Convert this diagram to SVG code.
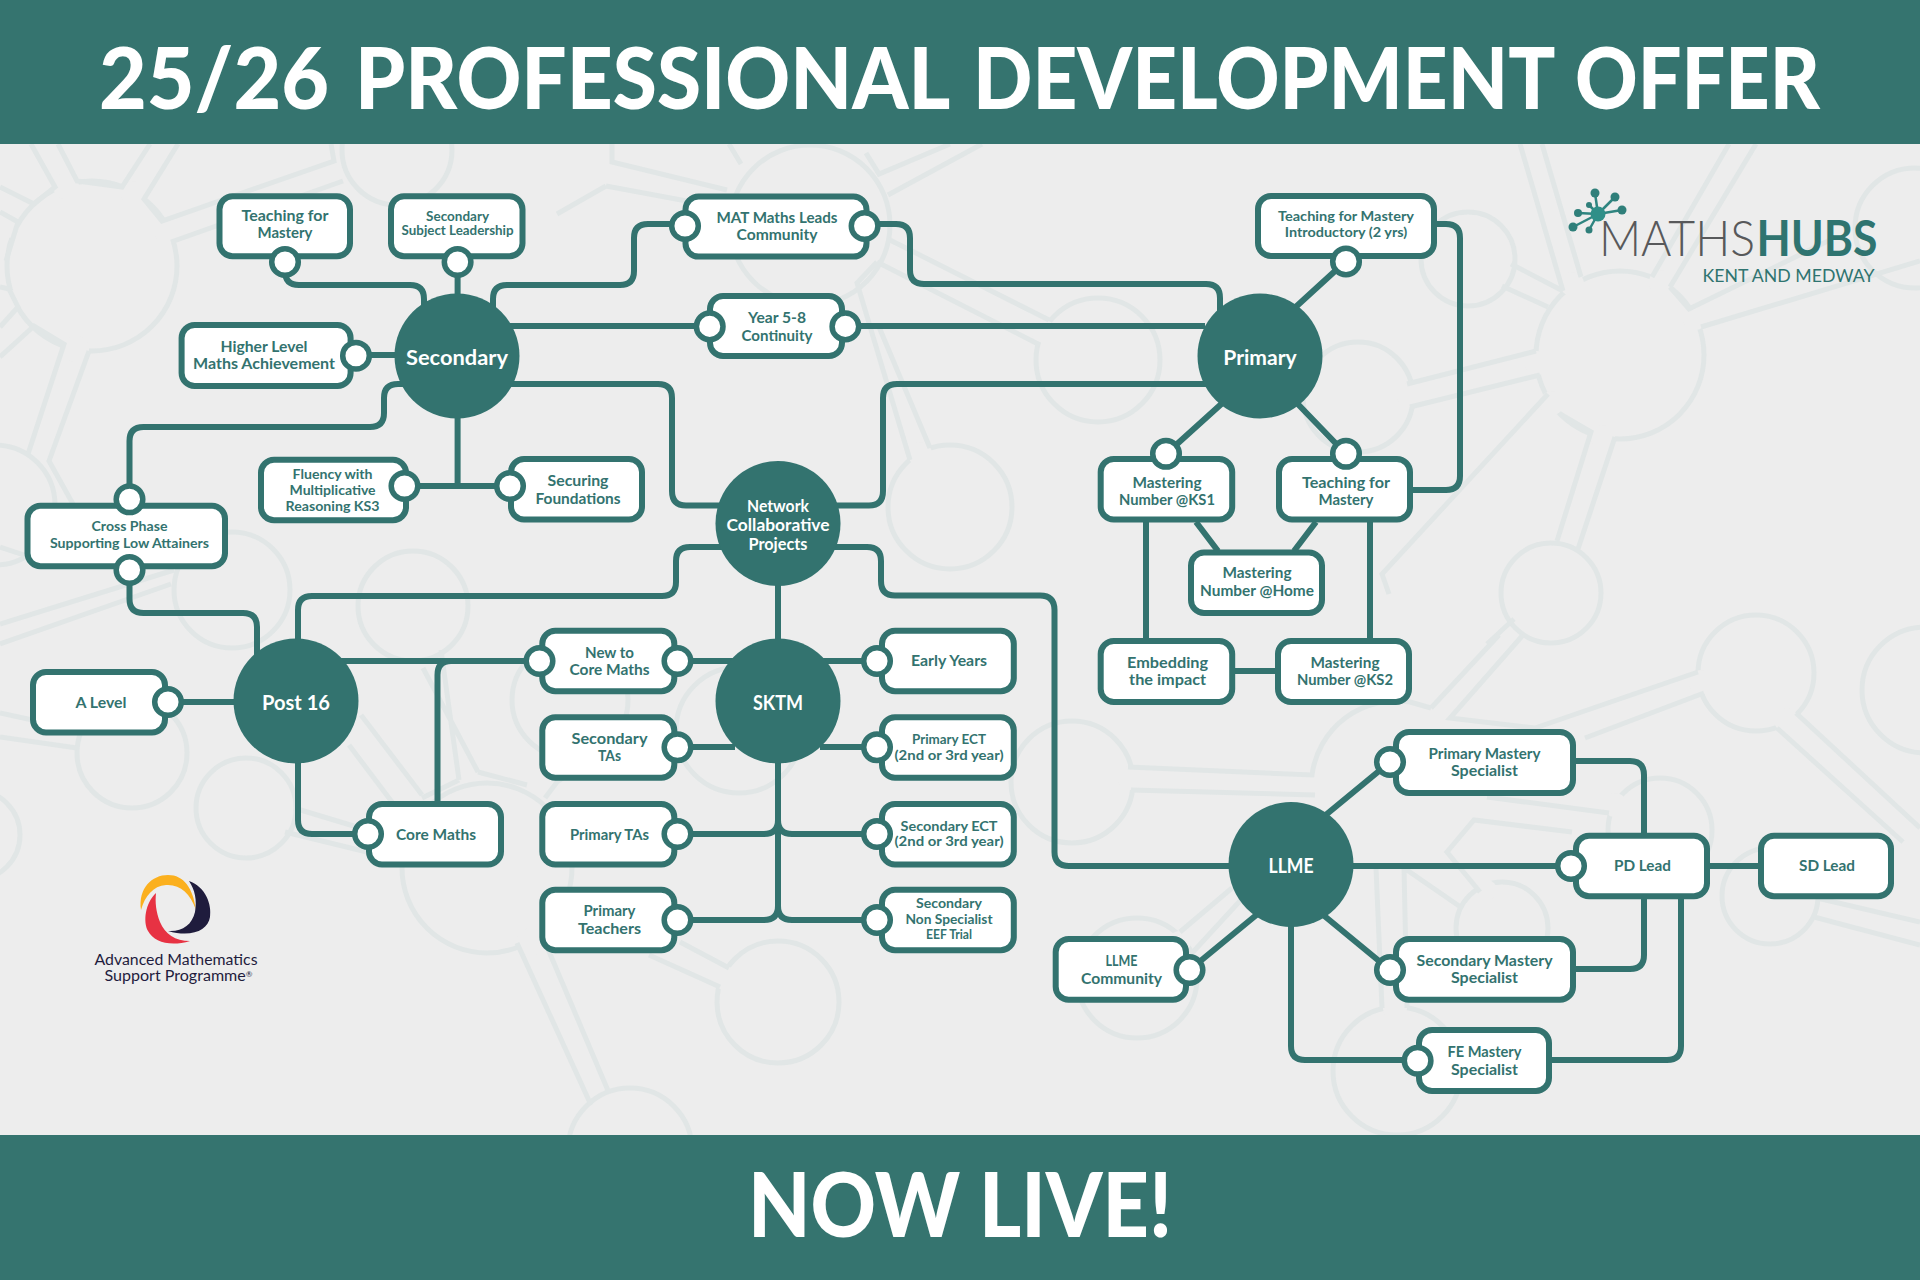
<svg xmlns="http://www.w3.org/2000/svg" width="1920" height="1280" viewBox="0 0 1920 1280">
<style>
.band{fill:#35746f}
.pat{fill:none;stroke:#e1e6e6;stroke-width:5;stroke-linejoin:miter}
.gap{fill:#ededed;stroke:none}
.c{fill:none;stroke:#33736f;stroke-width:6;stroke-linecap:butt}
.box{fill:#fff;stroke:#33736f;stroke-width:6}
.port{fill:#fff;stroke:#33736f;stroke-width:5.5}
.hub{fill:#33736f}
text{font-family:"Lato","Open Sans","Liberation Sans",sans-serif;text-anchor:middle}
.t{fill:#33736f;font-size:15.5px;font-weight:700}
.s{fill:#33736f;font-size:13.5px;font-weight:700;transform:translateY(-.7px)}
.h{fill:#fff;font-size:20px;font-weight:700}
.title{fill:#fff;font-weight:900;text-anchor:start}
.amsp{fill:#1f1c3d;font-size:16px;font-weight:400}
</style>
<rect width="1920" height="1280" fill="#ededed"/>
<g id="background-pattern" class="pat">
<circle cx="1620" cy="355" r="84"/>
<circle cx="1358" cy="397" r="55"/><circle cx="1468" cy="259" r="47"/><circle cx="1551" cy="593" r="50"/><circle cx="1915" cy="228" r="60"/>
<circle cx="1756" cy="673" r="58"/><circle cx="1072" cy="782" r="61"/><circle cx="1660" cy="830" r="52"/><circle cx="1502" cy="928" r="46"/><circle cx="1397" cy="1071" r="64"/><circle cx="1137" cy="978" r="60"/><circle cx="1770" cy="896" r="48"/><circle cx="1925" cy="690" r="63"/>
<circle cx="132" cy="753" r="55"/><circle cx="246" cy="808" r="50"/><circle cx="-25" cy="835" r="45"/><circle cx="487" cy="868" r="85"/><circle cx="630" cy="1150" r="62"/><circle cx="739" cy="730" r="63"/><circle cx="778" cy="1002" r="61"/><circle cx="570" cy="700" r="58"/>
<circle cx="92" cy="266" r="85"/><circle cx="397" cy="150" r="55"/><circle cx="-5" cy="505" r="60"/><circle cx="232" cy="590" r="58"/><circle cx="413" cy="606" r="55"/><circle cx="810" cy="225" r="80"/><circle cx="1098" cy="360" r="62"/><circle cx="950" cy="507" r="62"/>
<g class="gap">
<circle cx="1572" cy="284" r="12"/><circle cx="1661" cy="282" r="12"/><circle cx="1695" cy="318" r="12"/><circle cx="1537" cy="363" r="12"/><circle cx="1552" cy="403" r="12"/><circle cx="1603" cy="437" r="12"/>
<circle cx="1044" cy="332" r="12"/><circle cx="920" cy="454" r="12"/><circle cx="1409" cy="395" r="12"/><circle cx="1130" cy="778" r="12"/><circle cx="1701" cy="682" r="12"/><circle cx="1786" cy="720" r="12"/><circle cx="1395" cy="1008" r="12"/><circle cx="531" cy="942" r="14"/><circle cx="725" cy="978" r="12"/>
<circle cx="66" cy="186" r="13"/><circle cx="133" cy="193" r="12"/><circle cx="167" cy="232" r="12"/><circle cx="76" cy="349" r="13"/><circle cx="12" cy="300" r="10"/><circle cx="12" cy="230" r="8"/><circle cx="32" cy="204" r="0"/>
<circle cx="1180" cy="942" r="11"/><circle cx="1487" cy="890" r="10"/><circle cx="1615" cy="805" r="12"/>
</g>
<path d="M1520 144L1563 291M1542 144L1581 277M1502 286L1548 307M1511 264L1563 291M1652 277L1729 144M1670 287L1756 144M1670 287L1689 309L1830 240M1701 327L1920 261"/>
<path d="M1407 384L1536 351M1410 407L1540 375M1548 394L1382 574L1389 594M1560 414L1591 432L1557 541M1615 437L1578 549M1514 619L1487 644"/>
<path d="M1698 672L1535 728L1450 718L1523 635M1704 693L1585 738M1431 708L1499 635M1431 708L1410 702A85 85 0 0 0 1312 775L1128 767M1315 795L1131 790"/>
<path d="M1609 813L1487 797M1572 832L1474 820L1447 852L1480 892M1404 868L1462 908M1376 868L1382 1008M1404 868L1407 1008M1180 932L1232 888M1193 952L1250 890M1814 917L1920 945M1796 713L1920 828M1777 728L1903 842M1817 898L1920 922"/>
<path d="M77 748L0 737M0 713L37 721M285 832L367 852M294 808L367 830M517 943L591 1105M545 942L609 1093M361 715L422 795M349 745L398 810M478 772L423 668M459 780L441 650M459 780L422 798M478 772L527 785M729 968L680 942M720 987L649 955M545 798L557 782L650 720"/>
<path d="M31 144L55 187L34 204L0 187M58 144L77 181L122 187L150 144M178 144L144 199L162 221L334 161L331 144M171 242L343 181M0 212L18 222L6 261M0 287L9 289L18 307L0 327M0 357L34 326L64 344L28 454M89 351L49 461L73 504M0 547L30 557M171 584L0 644M174 570L0 624"/>
<path d="M612 144L612 162L727 190M606 186L735 210M606 186L557 214M741 164L729 144M888 195L982 144M866 153L879 174L950 144M888 239L1049 320M877 262L1040 345M877 262L857 283L910 460M930 448L879 327"/>
</g>
<g id="connectors" class="c">
<path d="M285 262V271Q285 285 299 285H410Q424 285 424 299V310"/>
<path d="M457.600 262V300"/>
<path d="M493 310V299Q493 285 507 285H620Q634 285 634 271V238Q634 224 648 224H685"/>
<path d="M864 224H896Q910 224 910 238V270Q910 284 924 284H1206Q1220 284 1220 298V312"/>
<path d="M500 326H710M845 326H1205"/>
<path d="M356 355H400"/>
<path d="M505 384H658Q672 384 672 398V491Q672 505.500 686 505.500H722"/>
<path d="M1208 384H897Q883 384 883 398V491Q883 505.500 869 505.500H836"/>
<path d="M408 384H398Q384 384 384 398V413Q384 427 370 427H143.500Q129.500 427 129.500 441V499"/>
<path d="M457.600 415V486M404 486H510"/>
<path d="M129.500 570V599Q129.500 613 143.500 613H243Q257 613 257 627V660"/>
<path d="M298 650V610Q298 596 312 596H662Q676 596 676 582V561Q676 547 690 547H726"/>
<path d="M832 547H867Q881 547 881 561V581Q881 595.500 895 595.500H1040Q1054.500 595.500 1054.500 610V852Q1054.500 866 1069 866H1235"/>
<path d="M778 583V642"/>
<path d="M340 661H539"/>
<path d="M437.500 805V675Q437.500 661 451 661"/>
<path d="M168 702H238"/>
<path d="M298 760V820Q298 834 312 834H368"/>
<path d="M677 661H735M820 661H876M677 747H735M820 747H876"/>
<path d="M778 760V906"/>
<path d="M677 834H764Q778 834 778 820M876 834H792Q778 834 778 820M677 920H764Q778 920 778 906M876 920H792Q778 920 778 906"/>
<path d="M1346 261L1288 314M1166 454L1228 398M1346 454L1292 398"/>
<path d="M1436 224H1446Q1460 224 1460 238V476Q1460 490 1446 490H1412"/>
<path d="M1146 522V640M1196 522L1218 551M1316 522L1294 551M1370 522V640M1235 671H1277"/>
<path d="M1390 762L1322 818M1390 970L1322 914M1189.500 970L1260 912"/>
<path d="M1350 866H1570"/>
<path d="M1291 925V1046Q1291 1060 1305 1060H1417"/>
<path d="M1576 761H1630Q1644 761 1644 775V835M1576 969H1630Q1644 969 1644 955V897M1552 1060H1667Q1681 1060 1681 1046V897"/>
<path d="M1710 866H1760"/>
</g>
<g id="header"><rect class="band" width="1920" height="144"/><text class="title" y="109" font-size="85"><tspan x="99" textLength="230" lengthAdjust="spacingAndGlyphs">25/26</tspan> <tspan x="355" textLength="593" lengthAdjust="spacingAndGlyphs">PROFESSIONAL</tspan> <tspan x="973" textLength="580" lengthAdjust="spacingAndGlyphs">DEVELOPMENT</tspan> <tspan x="1575" textLength="245" lengthAdjust="spacingAndGlyphs">OFFER</tspan></text></g>
<g id="footer"><rect class="band" y="1135" width="1920" height="145"/><text class="title" style="text-anchor:middle" x="960" y="1237" font-size="89" textLength="424" lengthAdjust="spacingAndGlyphs">NOW LIVE!</text></g>

<g id="hub-secondary"><circle class="hub" cx="457" cy="356" r="62.500"/><text class="h" x="457" y="365" textLength="102" lengthAdjust="spacingAndGlyphs">Secondary</text></g>
<g id="hub-primary"><circle class="hub" cx="1260" cy="356" r="62.500"/><text class="h" x="1260" y="364.500" textLength="73.500" lengthAdjust="spacingAndGlyphs">Primary</text></g>
<g id="hub-network"><circle class="hub" cx="778" cy="523.500" r="62.500"/><text class="h" style="font-size:17px" x="778" y="512" textLength="62" lengthAdjust="spacingAndGlyphs">Network</text><text class="h" style="font-size:17px" x="778" y="531" textLength="103" lengthAdjust="spacingAndGlyphs">Collaborative</text><text class="h" style="font-size:17px" x="778" y="550" textLength="59" lengthAdjust="spacingAndGlyphs">Projects</text></g>
<g id="hub-sktm"><circle class="hub" cx="778" cy="701" r="62.500"/><text class="h" x="778" y="710" textLength="50" lengthAdjust="spacingAndGlyphs">SKTM</text></g>
<g id="hub-post16"><circle class="hub" cx="296" cy="701" r="62.500"/><text class="h" x="296" y="710" textLength="68" lengthAdjust="spacingAndGlyphs">Post 16</text></g>
<g id="hub-llme"><circle class="hub" cx="1291" cy="864.500" r="62.500"/><text class="h" x="1291" y="873" textLength="45" lengthAdjust="spacingAndGlyphs">LLME</text></g>

<g id="node-tfm-sec"><rect class="box" x="219.500" y="196.300" width="130.500" height="60" rx="13"/><circle class="port" cx="285" cy="262" r="13.300"/><text class="t" x="285" y="220.700" textLength="87" lengthAdjust="spacingAndGlyphs">Teaching for</text><text class="t" x="285" y="237.700" textLength="55" lengthAdjust="spacingAndGlyphs">Mastery</text></g>
<g id="node-ssl"><rect class="box" x="391" y="196.300" width="131.500" height="60" rx="13"/><circle class="port" cx="457.600" cy="262" r="13.300"/><text class="s" x="457.600" y="221.700" textLength="63" lengthAdjust="spacingAndGlyphs">Secondary</text><text class="s" x="457.600" y="236" textLength="112" lengthAdjust="spacingAndGlyphs">Subject Leadership</text></g>
<g id="node-higher"><rect class="box" x="181.600" y="325" width="169" height="61" rx="13"/><circle class="port" cx="356" cy="355.700" r="13.300"/><text class="t" x="264" y="352" textLength="87" lengthAdjust="spacingAndGlyphs">Higher Level</text><text class="t" x="264" y="369" textLength="142" lengthAdjust="spacingAndGlyphs">Maths Achievement</text></g>
<g id="node-fluency"><rect class="box" x="261" y="459.700" width="145" height="60.500" rx="13"/><circle class="port" cx="404.500" cy="486" r="13.300"/><text class="s" x="332.600" y="479.300" textLength="80" lengthAdjust="spacingAndGlyphs">Fluency with</text><text class="s" x="332.600" y="495.300" textLength="86" lengthAdjust="spacingAndGlyphs">Multiplicative</text><text class="s" x="332.600" y="511.700" textLength="94" lengthAdjust="spacingAndGlyphs">Reasoning KS3</text></g>
<g id="node-securing"><rect class="box" x="511" y="459" width="131" height="60.500" rx="13"/><circle class="port" cx="510" cy="486" r="13.300"/><text class="t" x="578" y="486" textLength="61" lengthAdjust="spacingAndGlyphs">Securing</text><text class="t" x="578" y="503.500" textLength="85" lengthAdjust="spacingAndGlyphs">Foundations</text></g>
<g id="node-crossphase"><rect class="box" x="27.500" y="505.700" width="197.500" height="60.500" rx="13"/><circle class="port" cx="129.500" cy="499.300" r="13.300"/><circle class="port" cx="129.500" cy="570" r="13.300"/><text class="s" x="129.500" y="531.700" textLength="76" lengthAdjust="spacingAndGlyphs">Cross Phase</text><text class="s" x="129.500" y="548.300" textLength="159" lengthAdjust="spacingAndGlyphs">Supporting Low Attainers</text></g>
<g id="node-mat"><rect class="box" x="685.500" y="196.600" width="181" height="60" rx="13"/><circle class="port" cx="685" cy="226" r="13.300"/><circle class="port" cx="864.600" cy="226" r="13.300"/><text class="t" x="777" y="223.400" textLength="121" lengthAdjust="spacingAndGlyphs">MAT Maths Leads</text><text class="t" x="777" y="240" textLength="81" lengthAdjust="spacingAndGlyphs">Community</text></g>
<g id="node-year58"><rect class="box" x="710" y="296" width="132" height="60" rx="13"/><circle class="port" cx="709.700" cy="326.400" r="13.300"/><circle class="port" cx="845.400" cy="326.400" r="13.300"/><text class="t" x="777" y="323" textLength="58" lengthAdjust="spacingAndGlyphs">Year 5-8</text><text class="t" x="777" y="341" textLength="71" lengthAdjust="spacingAndGlyphs">Continuity</text></g>
<g id="node-tfm-intro"><rect class="box" x="1258" y="196" width="176" height="60" rx="13"/><circle class="port" cx="1346" cy="261.500" r="13.300"/><text class="s" x="1346" y="221.500" textLength="136" lengthAdjust="spacingAndGlyphs">Teaching for Mastery</text><text class="s" x="1346" y="237.500" textLength="122.500" lengthAdjust="spacingAndGlyphs">Introductory (2 yrs)</text></g>
<g id="node-ks1"><rect class="box" x="1100.700" y="459" width="131.500" height="60.500" rx="13"/><circle class="port" cx="1166" cy="453.800" r="13.300"/><text class="t" x="1167" y="488" textLength="69" lengthAdjust="spacingAndGlyphs">Mastering</text><text class="t" x="1167" y="505" textLength="96" lengthAdjust="spacingAndGlyphs">Number @KS1</text></g>
<g id="node-tfm-pri"><rect class="box" x="1279" y="459" width="131" height="60.500" rx="13"/><circle class="port" cx="1346" cy="453.800" r="13.300"/><text class="t" x="1346" y="488" textLength="88" lengthAdjust="spacingAndGlyphs">Teaching for</text><text class="t" x="1346" y="505" textLength="55" lengthAdjust="spacingAndGlyphs">Mastery</text></g>
<g id="node-home"><rect class="box" x="1191" y="552.500" width="131" height="60.500" rx="13"/><text class="t" x="1257" y="578" textLength="69" lengthAdjust="spacingAndGlyphs">Mastering</text><text class="t" x="1257" y="596" textLength="114" lengthAdjust="spacingAndGlyphs">Number @Home</text></g>
<g id="node-embedding"><rect class="box" x="1100.700" y="641" width="131.500" height="61" rx="13"/><text class="t" x="1167.600" y="668" textLength="81" lengthAdjust="spacingAndGlyphs">Embedding</text><text class="t" x="1167.600" y="685" textLength="77" lengthAdjust="spacingAndGlyphs">the impact</text></g>
<g id="node-ks2"><rect class="box" x="1278" y="641" width="131" height="61" rx="13"/><text class="t" x="1345" y="668" textLength="69" lengthAdjust="spacingAndGlyphs">Mastering</text><text class="t" x="1345" y="685" textLength="96" lengthAdjust="spacingAndGlyphs">Number @KS2</text></g>
<g id="node-newcore"><rect class="box" x="542.300" y="630.700" width="132" height="60.500" rx="13"/><circle class="port" cx="539.500" cy="661" r="13.300"/><circle class="port" cx="677.500" cy="661" r="13.300"/><text class="t" x="609.500" y="657.500" textLength="49" lengthAdjust="spacingAndGlyphs">New to</text><text class="t" x="609.500" y="675" textLength="80" lengthAdjust="spacingAndGlyphs">Core Maths</text></g>
<g id="node-sectas"><rect class="box" x="542.300" y="717.300" width="132" height="60.500" rx="13"/><circle class="port" cx="677.500" cy="747.300" r="13.300"/><text class="t" x="609.500" y="744" textLength="76" lengthAdjust="spacingAndGlyphs">Secondary</text><text class="t" x="609.500" y="761" textLength="23" lengthAdjust="spacingAndGlyphs">TAs</text></g>
<g id="node-pritas"><rect class="box" x="542.300" y="804" width="132" height="60.500" rx="13"/><circle class="port" cx="677.500" cy="834" r="13.300"/><text class="t" x="609.500" y="839.500" textLength="79" lengthAdjust="spacingAndGlyphs">Primary TAs</text></g>
<g id="node-priteach"><rect class="box" x="542.300" y="889.700" width="132" height="60.500" rx="13"/><circle class="port" cx="677.500" cy="920" r="13.300"/><text class="t" x="609.500" y="916" textLength="52" lengthAdjust="spacingAndGlyphs">Primary</text><text class="t" x="609.500" y="933.500" textLength="63" lengthAdjust="spacingAndGlyphs">Teachers</text></g>
<g id="node-early"><rect class="box" x="882" y="630.700" width="131.800" height="60.500" rx="13"/><circle class="port" cx="877" cy="661" r="13.300"/><text class="t" x="949" y="666" textLength="76" lengthAdjust="spacingAndGlyphs">Early Years</text></g>
<g id="node-priect"><rect class="box" x="882" y="717.300" width="131.800" height="60.500" rx="13"/><circle class="port" cx="877" cy="747.300" r="13.300"/><text class="s" x="949" y="745" textLength="74" lengthAdjust="spacingAndGlyphs">Primary ECT</text><text class="s" x="949" y="760.700" textLength="109" lengthAdjust="spacingAndGlyphs">(2nd or 3rd year)</text></g>
<g id="node-secect"><rect class="box" x="882" y="804" width="131.800" height="60.500" rx="13"/><circle class="port" cx="877" cy="834" r="13.300"/><text class="s" x="949" y="831.700" textLength="97" lengthAdjust="spacingAndGlyphs">Secondary ECT</text><text class="s" x="949" y="847" textLength="109" lengthAdjust="spacingAndGlyphs">(2nd or 3rd year)</text></g>
<g id="node-eef"><rect class="box" x="882" y="889.700" width="131.800" height="60.500" rx="13"/><circle class="port" cx="877" cy="920" r="13.300"/><text class="s" x="949" y="909" textLength="66" lengthAdjust="spacingAndGlyphs">Secondary</text><text class="s" x="949" y="924.700" textLength="87" lengthAdjust="spacingAndGlyphs">Non Specialist</text><text class="s" x="949" y="940" textLength="46" lengthAdjust="spacingAndGlyphs">EEF Trial</text></g>
<g id="node-corem"><rect class="box" x="369" y="804" width="132" height="60.500" rx="13"/><circle class="port" cx="368" cy="834" r="13.300"/><text class="t" x="436" y="839.500" textLength="80" lengthAdjust="spacingAndGlyphs">Core Maths</text></g>
<g id="node-alevel"><rect class="box" x="33" y="672" width="132" height="60.500" rx="13"/><circle class="port" cx="168" cy="702" r="13.300"/><text class="t" x="101" y="708" textLength="51" lengthAdjust="spacingAndGlyphs">A Level</text></g>
<g id="node-primastery"><rect class="box" x="1396" y="732" width="177" height="61" rx="13"/><circle class="port" cx="1390" cy="762" r="13.300"/><text class="t" x="1484.500" y="759.300" textLength="112" lengthAdjust="spacingAndGlyphs">Primary Mastery</text><text class="t" x="1484.500" y="776.300" textLength="67" lengthAdjust="spacingAndGlyphs">Specialist</text></g>
<g id="node-secmastery"><rect class="box" x="1396" y="939" width="177" height="60.700" rx="13"/><circle class="port" cx="1390" cy="970" r="13.300"/><text class="t" x="1484.500" y="966" textLength="136" lengthAdjust="spacingAndGlyphs">Secondary Mastery</text><text class="t" x="1484.500" y="983" textLength="67" lengthAdjust="spacingAndGlyphs">Specialist</text></g>
<g id="node-femastery"><rect class="box" x="1419" y="1030" width="130" height="61" rx="13"/><circle class="port" cx="1417.600" cy="1060.700" r="13.300"/><text class="t" x="1484.500" y="1057" textLength="74" lengthAdjust="spacingAndGlyphs">FE Mastery</text><text class="t" x="1484.500" y="1074.500" textLength="67" lengthAdjust="spacingAndGlyphs">Specialist</text></g>
<g id="node-llmecomm"><rect class="box" x="1055.700" y="939" width="130.300" height="60.700" rx="13"/><circle class="port" cx="1189.500" cy="970" r="13.300"/><text class="t" x="1121.500" y="966" textLength="32" lengthAdjust="spacingAndGlyphs">LLME</text><text class="t" x="1121.500" y="983.500" textLength="81" lengthAdjust="spacingAndGlyphs">Community</text></g>
<g id="node-pdlead"><rect class="box" x="1576" y="835.700" width="131" height="60.600" rx="13"/><circle class="port" cx="1571" cy="866" r="13.300"/><text class="t" x="1642.500" y="871" textLength="57" lengthAdjust="spacingAndGlyphs">PD Lead</text></g>
<g id="node-sdlead"><rect class="box" x="1761" y="835.700" width="130" height="60.600" rx="13"/><text class="t" x="1827" y="871" textLength="56" lengthAdjust="spacingAndGlyphs">SD Lead</text></g>

<g id="logo-mathshubs">
<g stroke="#2f8580" stroke-width="2.500"><path d="M1598 214L1595 193M1598 214L1615 197M1598 214L1622 210M1598 214L1578 213M1598 214L1589 205M1598 214L1573 227M1598 214L1589 230"/></g>
<g fill="#2f7f7a"><circle cx="1595" cy="193" r="4.500"/><circle cx="1615" cy="197" r="4.500"/><circle cx="1622" cy="210" r="4.500"/><circle cx="1578" cy="213" r="4"/><circle cx="1589" cy="205" r="3"/><circle cx="1573" cy="227" r="4.500"/><circle cx="1589" cy="230" r="3.500"/></g>
<circle cx="1598" cy="214" r="7.500" fill="#2f8f88"/>
<text x="1677" y="256" font-size="49" font-weight="300" fill="#58595b" textLength="156" lengthAdjust="spacingAndGlyphs">MATHS</text>
<text x="1817" y="256" font-size="49" font-weight="700" fill="#2f7470" textLength="121" lengthAdjust="spacingAndGlyphs">HUBS</text>
<text x="1788.500" y="281.700" font-size="18" font-weight="400" fill="#2f7470" textLength="172" lengthAdjust="spacingAndGlyphs">KENT AND MEDWAY</text>
</g>
<g id="logo-amsp">
<path fill="#fbb01e" d="M141 910C138 888 152 875 168 875C184 875 193 888 196 910C190 893 180 884 166 885C153 886 145 896 141 910Z"/>
<path fill="#1f1c3d" d="M189 881C206 887 212 905 210 917C208 930 192 938 168 931C182 932 192 925 195 912C197 900 195 890 189 881Z"/>
<path fill="#e73243" d="M156 893C145 903 143 922 148 931C154 942 170 947 190 941C175 941 165 934 160 922C156 912 155 902 156 893Z"/>
<text class="amsp" x="176" y="965" textLength="163" lengthAdjust="spacingAndGlyphs">Advanced Mathematics</text>
<text class="amsp" x="178.500" y="981" textLength="148" lengthAdjust="spacingAndGlyphs">Support Programme<tspan font-size="8" dy="-4">®</tspan></text>
</g>
</svg>
